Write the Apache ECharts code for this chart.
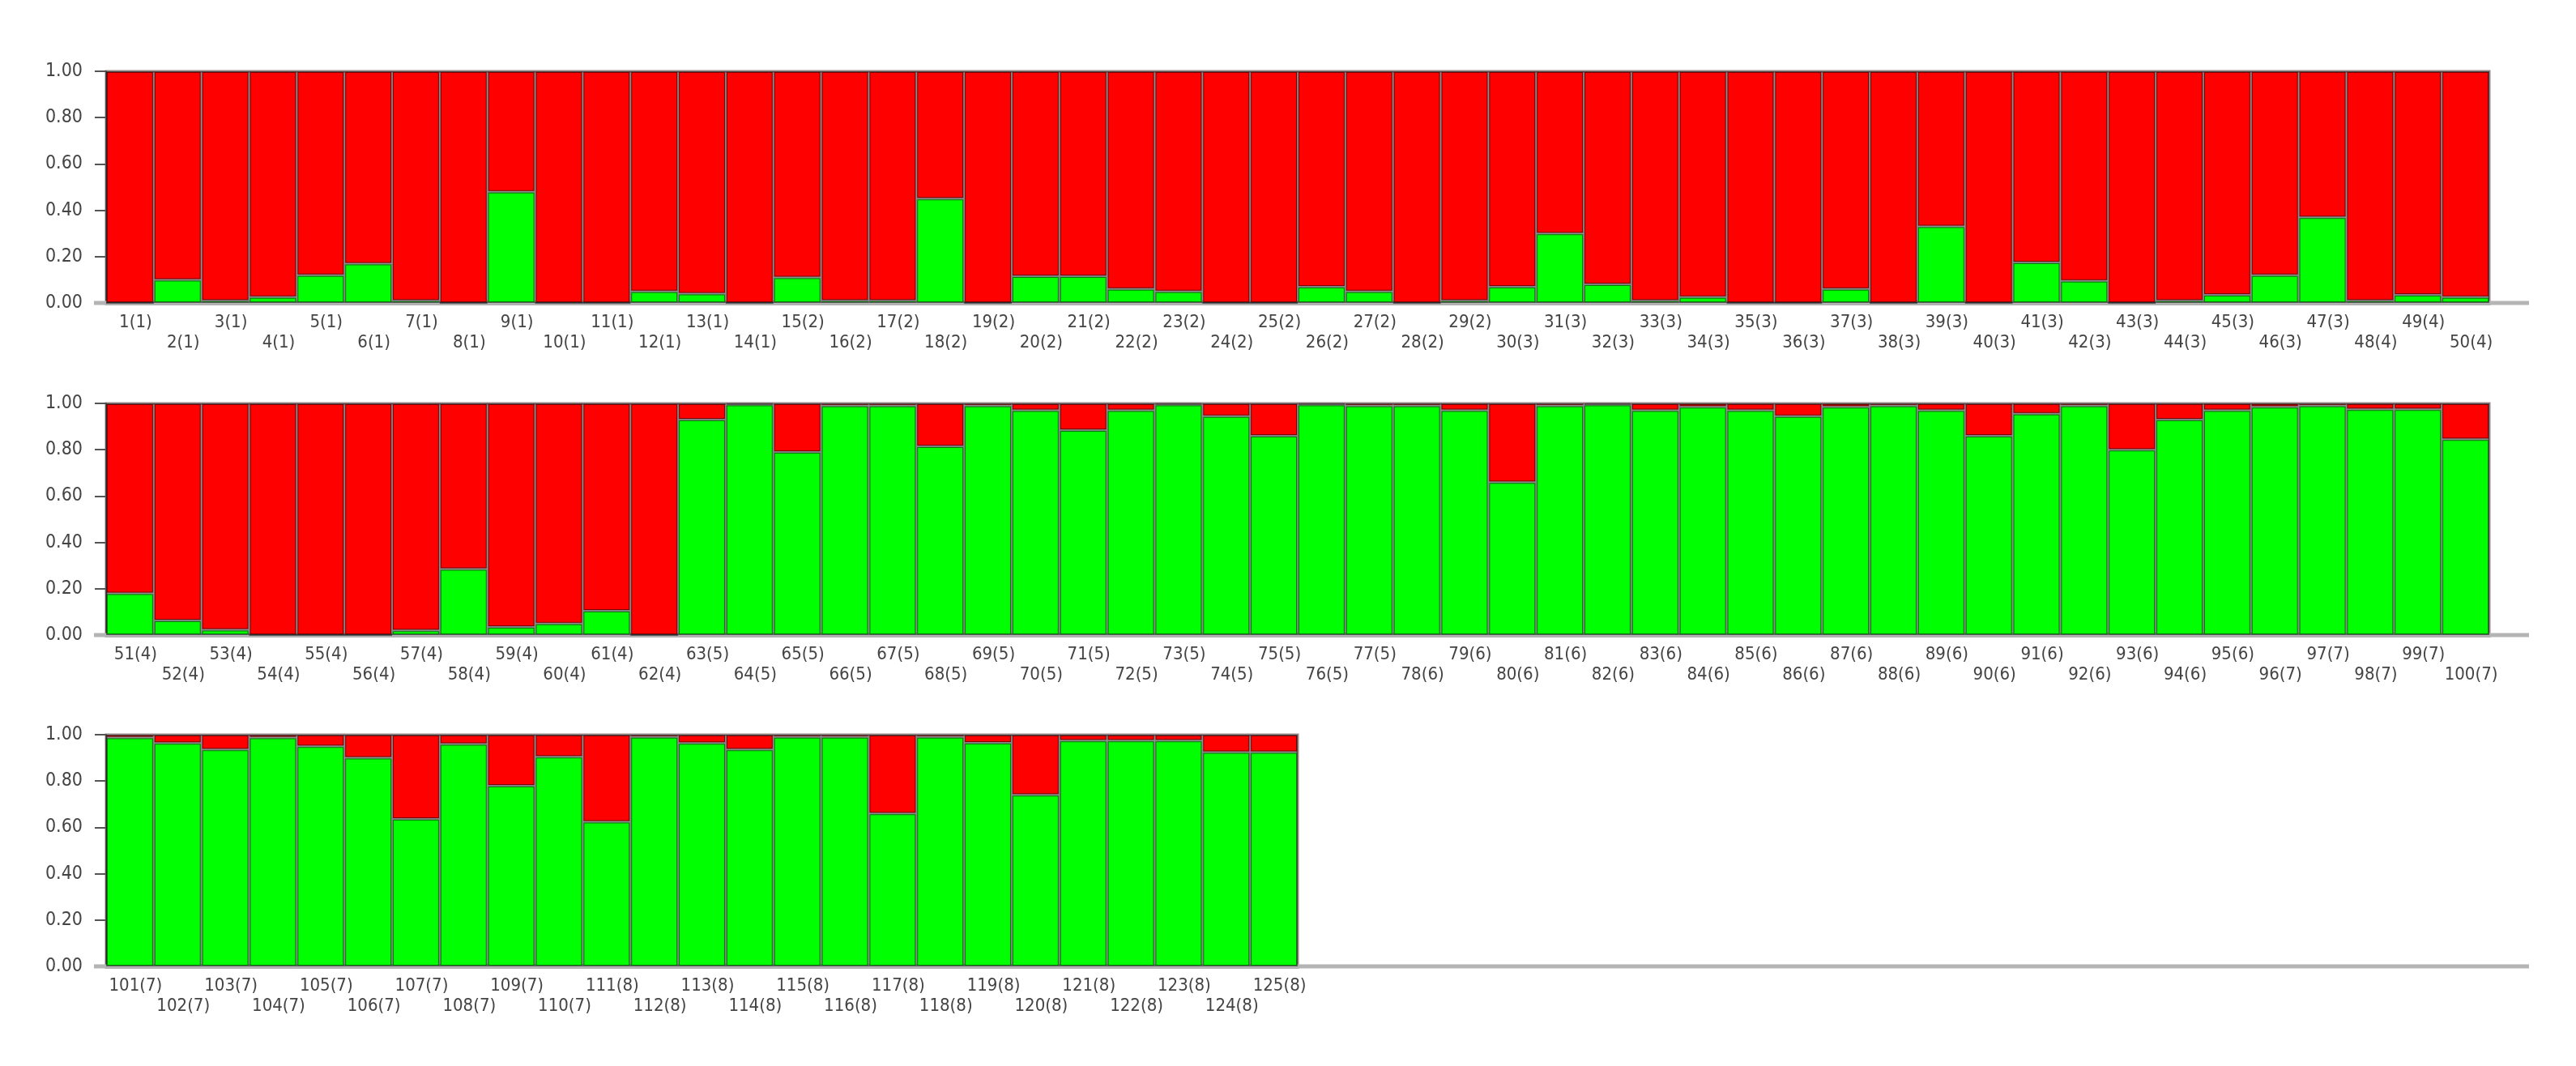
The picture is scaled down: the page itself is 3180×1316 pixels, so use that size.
<!DOCTYPE html>
<html>
<head>
<meta charset="utf-8">
<title>structure plot</title>
<script src="https://cdn.jsdelivr.net/npm/echarts@6/dist/echarts.min.js"></script>
<style>
html, body { margin: 0; padding: 0; background: #fff; }
#main { width: 3180px; height: 1316px; }
</style>
</head>
<body>
<div id="main"></div>
<script>
//每个群体的个体数 (群体 1-8)
var popSizes = [14, 15, 18, 15, 15, 18, 15, 15];

//绿色成分比例 (个体 1-50)
var greenRow1 = [0.00, 0.10, 0.01, 0.025, 0.12, 0.17, 0.01, 0.00, 0.48, 0.00,
    0.00, 0.05, 0.04, 0.00, 0.11, 0.01, 0.01, 0.45, 0.00, 0.115,
    0.115, 0.06, 0.05, 0.00, 0.00, 0.07, 0.05, 0.00, 0.01, 0.07,
    0.30, 0.08, 0.01, 0.025, 0.00, 0.00, 0.06, 0.00, 0.33, 0.00,
    0.175, 0.095, 0.00, 0.01, 0.035, 0.12, 0.37, 0.01, 0.035, 0.025];

//绿色成分比例 (个体 51-100)
var greenRow2 = [0.18, 0.063, 0.023, 0.00, 0.00, 0.00, 0.02, 0.285, 0.035, 0.05,
    0.105, 0.00, 0.93, 0.995, 0.79, 0.99, 0.99, 0.815, 0.99, 0.97,
    0.885, 0.97, 0.995, 0.945, 0.86, 0.995, 0.99, 0.99, 0.97, 0.66,
    0.99, 0.995, 0.97, 0.985, 0.97, 0.945, 0.985, 0.99, 0.97, 0.86,
    0.955, 0.99, 0.80, 0.93, 0.97, 0.985, 0.99, 0.975, 0.975, 0.845];

//绿色成分比例 (个体 101-125)
var greenRow3 = [0.988, 0.964, 0.936, 0.988, 0.95, 0.90, 0.636, 0.96, 0.78, 0.905,
    0.624, 0.99, 0.964, 0.936, 0.99, 0.99, 0.66, 0.99, 0.965, 0.74,
    0.975, 0.975, 0.975, 0.925, 0.925];

//纵坐标刻度
var yLabels = ['0.00', '0.20', '0.40', '0.60', '0.80', '1.00'];

//布局
var plotLeft = 131;
var slotWidth = 58.84;
var rowTops = [88, 498, 907];
var rowHeight = 286;
var lineEnd = 3122;
var labelFont = "'Liberation Sans Narrow', 'DejaVu Sans Condensed', 'Liberation Sans', sans-serif";

//生成个体标签 如 1(1)
function getLabels() {
    var labels = [];
    var n = 1;
    for (var p = 0; p < popSizes.length; p++) {
        for (var k = 0; k < popSizes[p]; k++) {
            labels.push(n + '(' + (p + 1) + ')');
            n++;
        }
    }
    return labels;
}

function initChart() {
    var labels = getLabels();
    var rows = [greenRow1, greenRow2, greenRow3];
    var grid = [], xAxis = [], yAxis = [], series = [], graphic = [];
    var start = 0;
    for (var r = 0; r < rows.length; r++) {
        var green = rows[r];
        var red = [];
        for (var i = 0; i < green.length; i++) {
            red.push(+(1 - green[i]).toFixed(3));
        }
        grid.push({
            left: plotLeft,
            top: rowTops[r],
            width: green.length * slotWidth,
            height: rowHeight,
            show: true,
            borderColor: '#9a8a8a',
            borderWidth: 3
        });
        xAxis.push({
            type: 'category',
            gridIndex: r,
            data: labels.slice(start, start + green.length),
            boundaryGap: true,
            axisLine: { lineStyle: { color: '#a8a8a8', width: 5 } },
            axisTick: { alignWithLabel: true, interval: 0, length: 13, lineStyle: { color: '#555', width: 2 } },
            axisLabel: {
                interval: 0,
                margin: 12,
                fontSize: 22,
                lineHeight: 25,
                padding: [0, 0, 0, 14],
                color: '#444',
                fontFamily: labelFont,
                formatter: function(value, index) {
                    return index % 2 == 0 ? value : '\n' + value;
                }
            },
            splitLine: { show: false }
        });
        yAxis.push({
            type: 'value',
            gridIndex: r,
            min: 0,
            max: 1,
            interval: 0.2,
            axisLine: { show: true, lineStyle: { color: '#555', width: 2 } },
            axisTick: { show: true, length: 14, lineStyle: { color: '#555', width: 2 } },
            axisLabel: {
                margin: 29,
                fontSize: 23,
                color: '#444',
                fontFamily: labelFont,
                formatter: function(value) {
                    return yLabels[Math.round(value * 5)];
                }
            },
            splitLine: { show: false }
        });
        series.push({
            type: 'bar',
            xAxisIndex: r,
            yAxisIndex: r,
            stack: 'row' + r,
            data: green,
            barCategoryGap: '0%',
            itemStyle: { color: '#00ff00', borderColor: 'rgba(0,0,0,0.5)', borderWidth: 2 }
        });
        series.push({
            type: 'bar',
            xAxisIndex: r,
            yAxisIndex: r,
            stack: 'row' + r,
            data: red,
            barCategoryGap: '0%',
            itemStyle: { color: '#ff0000', borderColor: 'rgba(0,0,0,0.5)', borderWidth: 2 }
        });
        //横轴线延长
        graphic.push({
            type: 'rect',
            z: 1,
            shape: { x: plotLeft - 15, y: rowTops[r] + rowHeight - 2.5, width: lineEnd - plotLeft + 15, height: 5 },
            style: { fill: '#b4b4b4' }
        });
        start += green.length;
    }
    var myChart = echarts.init(document.getElementById('main'));
    myChart.setOption({
        backgroundColor: '#fff',
        animation: false,
        grid: grid,
        xAxis: xAxis,
        yAxis: yAxis,
        series: series,
        graphic: graphic
    });
}

initChart();
</script>
</body>
</html>
